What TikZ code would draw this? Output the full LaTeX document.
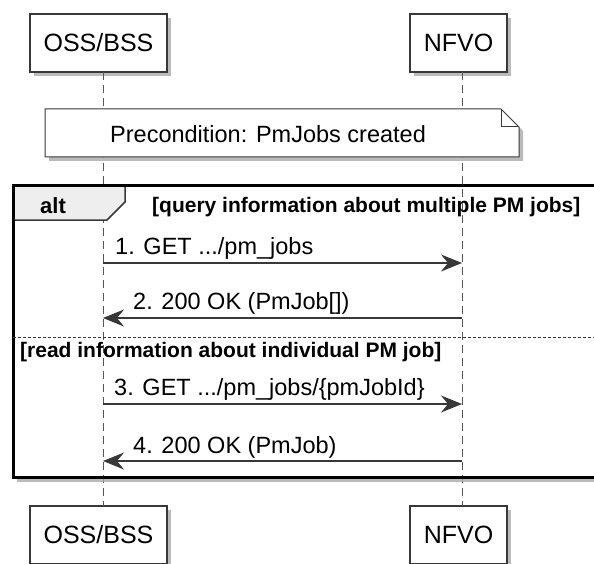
\documentclass[tikz,border=0pt]{standalone}
\usepackage{fontspec}
\setmainfont{Liberation Sans}
\usetikzlibrary{arrows.meta,shadows}
\definecolor{ln}{HTML}{383838}
\definecolor{tabfill}{HTML}{EEEEEE}
\definecolor{shd}{HTML}{AAAAAA}
\begin{document}
\begin{tikzpicture}[x=1pt,y=-1pt,
  part/.style={draw=ln, line width=1.5pt, fill=white, minimum height=58pt, inner sep=0pt,
    font=\fontsize{25}{30}\selectfont,
    drop shadow={shadow xshift=4pt, shadow yshift=-4pt, fill=shd, opacity=0.8}},
  life/.style={draw=ln!85, line width=1pt, dash pattern=on 8pt off 5pt},
  msg/.style={draw=ln, line width=1.2pt, -{Stealth[length=21pt,width=17pt,inset=7pt]}},
  lbl/.style={anchor=base west, inner sep=0pt, font=\fontsize{23.5}{28}\selectfont},
  guard/.style={anchor=base west, inner sep=0pt, font=\bfseries\fontsize{21}{25}\selectfont},
]
\useasboundingbox (0,0) rectangle (594,564);
\fill[white] (0,0) rectangle (594,564);

% participants
\node[part, minimum width=137pt] (ossT) at (98.5,43) {OSS/BSS};
\node[part, minimum width=97pt] (nfvoT) at (458.5,43) {NFVO};
\node[part, minimum width=137pt] (ossB) at (98.5,535) {OSS/BSS};
\node[part, minimum width=97pt] (nfvoB) at (458.5,535) {NFVO};

% lifelines
\coordinate (oT) at (103,72); \coordinate (oB) at (103,506);
\coordinate (nT) at (462,72); \coordinate (nB) at (462,506);
\draw[life] (oT) -- (oB);
\draw[life] (nT) -- (nB);

% note
\fill[shd, opacity=0.8] (49,113) -- (505,113) -- (523,131) -- (523,161) -- (49,161) -- cycle;
\draw[ln, line width=1pt, fill=white] (45,109) -- (501,109) -- (519,127) -- (519,157) -- (45,157) -- cycle;
\draw[ln, line width=1pt] (501,109) -- (501,127) -- (519,127);
\node[lbl] (note) at (110,143) {Precondition: PmJobs created};

% alt frame
\fill[shd, opacity=0.8] (17,477) rectangle (600,482);
\draw[black, line width=3pt] (13,186) rectangle (600,477);
\draw[ln, line width=1.5pt, fill=tabfill] (13,186) -- (125,186) -- (125,202) -- (107,220) -- (13,220) -- cycle;
\draw[black, line width=3pt] (13,186) -- (600,186);
\draw[black, line width=3pt] (13,186) -- (13,477);
\node[anchor=base west, inner sep=0pt, font=\bfseries\fontsize{22}{26}\selectfont] (alt) at (40,213) {alt};
\node[guard] (g1) at (152,212) {[query information about multiple PM jobs]};
\draw[ln, line width=1pt, dash pattern=on 3pt off 2pt] (13,337) -- (594,337);
\node[guard] (g2) at (20,357) {[read information about individual PM job]};

% messages
\coordinate (m1s) at (103,263); \coordinate (m1e) at (462,263);
\coordinate (m2s) at (462,318); \coordinate (m2e) at (103,318);
\coordinate (m3s) at (103,404); \coordinate (m3e) at (462,404);
\coordinate (m4s) at (462,461); \coordinate (m4e) at (103,461);
\draw[msg] (m1s) -- (m1e);
\draw[msg] (m2s) -- (m2e);
\draw[msg] (m3s) -- (m3e);
\draw[msg] (m4s) -- (m4e);
\node[lbl] (l1) at (115,254) {1. GET .../pm\_jobs};
\node[lbl] (l2) at (133,309) {2. 200 OK (PmJob[])};
\node[lbl] (l3) at (114,395) {3. GET .../pm\_jobs/\{pmJobId\}};
\node[lbl] (l4) at (133,453) {4. 200 OK (PmJob)};
\end{tikzpicture}
\end{document}
